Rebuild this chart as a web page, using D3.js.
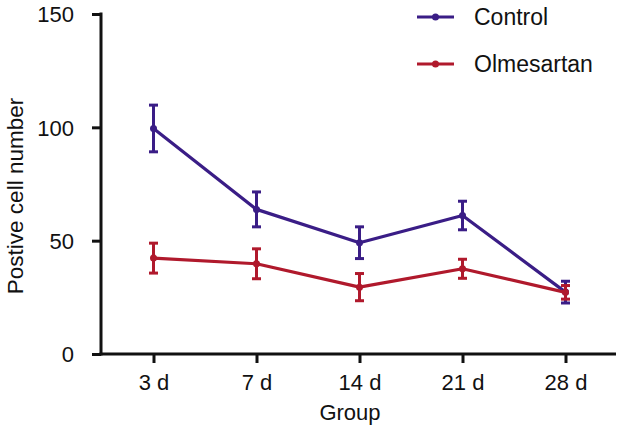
<!DOCTYPE html>
<html>
<head>
<meta charset="utf-8">
<script src="https://cdn.jsdelivr.net/npm/d3@7"></script>
<style>
  body { margin: 0; background: #fff; }
  text { font-family: "Liberation Sans", Arial, sans-serif; fill: #111; }
</style>
</head>
<body>
<svg id="chart" width="626" height="433"></svg>
<script>
const categories = ["3 d", "7 d", "14 d", "21 d", "28 d"];
const controlMean = [99.5, 63.8, 49.1, 61.1, 27.3];
const controlErr = [10.3, 7.7, 7.0, 6.3, 4.8];
const olmMean = [42.3, 39.8, 29.5, 37.6, 27.2];
const olmErr = [6.6, 6.6, 6.0, 4.2, 3.0];
const yTicks = [0, 50, 100, 150];
const seriesNames = ["Control", "Olmesartan"];
const seriesColors = ["#3a1d86", "#b0192c"];

const svg = d3.select("#chart");
const x = d3.scalePoint().domain(categories).range([153.5, 565.5]);
const y = d3.scaleLinear().domain([0, 150]).range([354, 14]);

// axes
const yAxis = svg.append("g").attr("transform", "translate(101,0)")
  .call(d3.axisLeft(y).tickValues(yTicks).tickSize(9).tickPadding(18).tickSizeOuter(0));
yAxis.select(".domain").remove();
yAxis.selectAll("line").attr("stroke", "#111").attr("stroke-width", 3);
yAxis.selectAll("text").style("font-size", "22px").attr("dy", "0.35em");

svg.append("line").attr("x1", 101).attr("x2", 101).attr("y1", y(150) - 1.5).attr("y2", y(0) + 1.5)
  .attr("stroke", "#111").attr("stroke-width", 3);

const xAxis = svg.append("g").attr("transform", "translate(0,354)")
  .call(d3.axisBottom(x).tickSize(9).tickPadding(8).tickSizeOuter(0));
xAxis.select(".domain").remove();
xAxis.selectAll("line").attr("stroke", "#111").attr("stroke-width", 3);
xAxis.selectAll("text").style("font-size", "22px").attr("dy", "0.86em");

svg.append("line").attr("x1", 99.5).attr("x2", 616).attr("y1", 354).attr("y2", 354)
  .attr("stroke", "#111").attr("stroke-width", 3);

// axis titles
svg.append("text").attr("x", 350).attr("y", 420).attr("text-anchor", "middle")
  .style("font-size", "22px").text("Group");
svg.append("text").attr("transform", "translate(23,196) rotate(-90)")
  .attr("text-anchor", "middle").style("font-size", "22.5px").text("Postive cell number");

// series
const series = [
  { name: seriesNames[0], mean: controlMean, err: controlErr, color: seriesColors[0] },
  { name: seriesNames[1], mean: olmMean, err: olmErr, color: seriesColors[1] }
];
const line = d3.line().x((d, i) => x(categories[i])).y(d => y(d));

series.forEach(s => {
  const g = svg.append("g");
  g.append("path").attr("d", line(s.mean)).attr("fill", "none")
    .attr("stroke", s.color).attr("stroke-width", 3.2).attr("stroke-linejoin", "round");
  s.mean.forEach((m, i) => {
    const cx = x(categories[i]);
    g.append("line").attr("x1", cx).attr("x2", cx).attr("y1", y(m + s.err[i])).attr("y2", y(m - s.err[i]))
      .attr("stroke", s.color).attr("stroke-width", 3);
    [m + s.err[i], m - s.err[i]].forEach(v => {
      g.append("line").attr("x1", cx - 4.5).attr("x2", cx + 4.5).attr("y1", y(v)).attr("y2", y(v))
        .attr("stroke", s.color).attr("stroke-width", 3);
    });
    g.append("circle").attr("cx", cx).attr("cy", y(m)).attr("r", 3.5).attr("fill", s.color);
  });
});

// legend
const legendY = [17, 64];
series.forEach((s, i) => {
  const g = svg.append("g").attr("transform", `translate(0,${legendY[i]})`);
  g.append("line").attr("x1", 417).attr("x2", 454).attr("y1", 0).attr("y2", 0)
    .attr("stroke", s.color).attr("stroke-width", 3);
  g.append("circle").attr("cx", 435.5).attr("cy", 0).attr("r", 3.5).attr("fill", s.color);
  g.append("text").attr("x", 474).attr("y", 0).attr("dy", "0.35em")
    .style("font-size", "23px").text(s.name);
});
</script>
</body>
</html>
